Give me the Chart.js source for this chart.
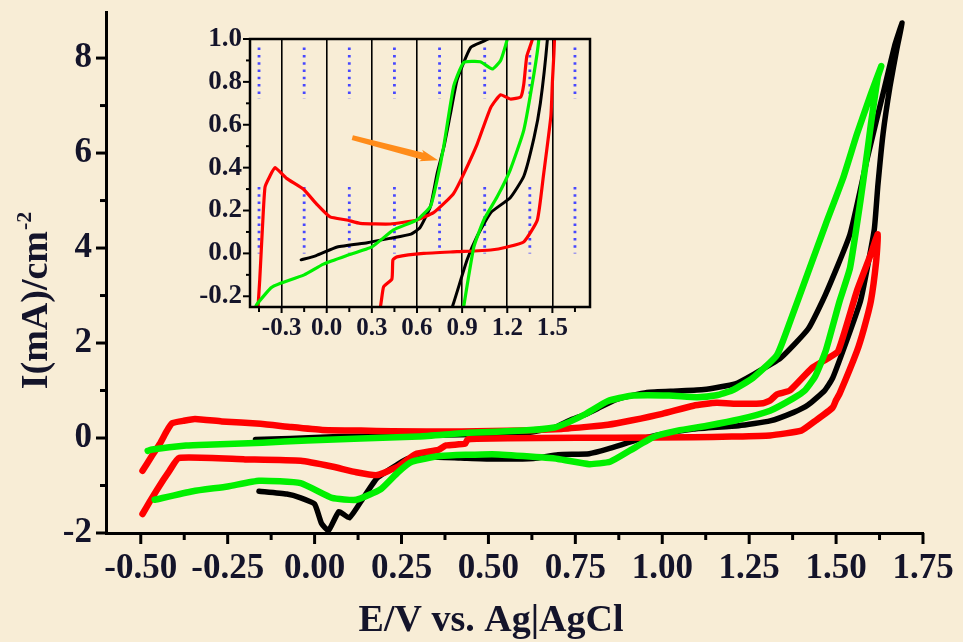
<!DOCTYPE html>
<html>
<head>
<meta charset="utf-8">
<script src="https://cdn.jsdelivr.net/npm/chart.js@4.4.0/dist/chart.umd.min.js"></script>
<style>
  html, body { margin: 0; padding: 0; background: #f8edd6; }
  #wrap { position: relative; width: 963px; height: 642px; }
  #main { position: absolute; left: 0; top: 0; }
  #inset { position: absolute; left: 190px; top: 25px; }
</style>
</head>
<body>
<div id="wrap">
  <canvas id="main" width="963" height="642"></canvas>
  <canvas id="inset" width="410" height="320"></canvas>
</div>
<script>
// ticks
const xTicks = [-0.5, -0.25, 0, 0.25, 0.5, 0.75, 1, 1.25, 1.5, 1.75];
const yTicks = [-2, 0, 2, 4, 6, 8];
const insetXTicks = [-0.3, 0, 0.3, 0.6, 0.9, 1.2, 1.5];
const insetYTicks = [-0.2, 0, 0.2, 0.4, 0.6, 0.8, 1.0];

// curves, E (V) and I (mA/cm2), forward scan then reverse scan
const blackE = [-0.17, -0.07, 0.07, 0.27, 0.42, 0.56, 0.62, 0.69, 0.733, 0.78, 0.822, 0.867, 0.956, 1.044, 1.12, 1.21, 1.26, 1.34, 1.42, 1.47, 1.54, 1.59, 1.64, 1.67, 1.69,
  1.675, 1.655, 1.635, 1.62, 1.61, 1.585, 1.57, 1.53, 1.49, 1.467, 1.42, 1.378, 1.31, 1.22, 1.09, 1.0, 0.933, 0.844, 0.79, 0.7, 0.63, 0.51, 0.42, 0.33, 0.27, 0.24, 0.18, 0.14, 0.1, 0.07, 0.04, 0.02, 0.0, -0.04, -0.08, -0.16];
const blackI = [-0.03, -0.01, 0.03, 0.05, 0.07, 0.09, 0.12, 0.22, 0.37, 0.5, 0.65, 0.81, 0.96, 0.99, 1.02, 1.14, 1.33, 1.68, 2.3, 3.03, 4.29, 5.9, 7.4, 8.3, 8.74,
  8.2, 7.4, 6.4, 5.3, 4.4, 3.4, 2.88, 2.04, 1.26, 1.0, 0.7, 0.54, 0.36, 0.26, 0.19, 0.08, -0.03, -0.23, -0.33, -0.35, -0.43, -0.44, -0.42, -0.4, -0.43, -0.55, -0.84, -1.26, -1.68, -1.55, -1.95, -1.8, -1.39, -1.26, -1.18, -1.12];

const redE = [-0.495, -0.47, -0.445, -0.425, -0.41, -0.378, -0.344, -0.267, -0.156, -0.067, 0.022, 0.133, 0.222, 0.422, 0.6, 0.71, 0.79, 0.844, 0.91, 1.0, 1.09, 1.156, 1.22, 1.29, 1.31, 1.33, 1.367, 1.43, 1.47, 1.506, 1.56, 1.6, 1.62,
  1.615, 1.6, 1.58, 1.56, 1.51, 1.5, 1.49, 1.44, 1.4, 1.31, 1.2, 1.09, 0.867, 0.644, 0.467, 0.44, 0.433, 0.378, 0.356, 0.29, 0.24, 0.18, 0.12, 0.05, -0.04, -0.2, -0.39, -0.42, -0.45, -0.475, -0.495];
const redI = [-0.69, -0.4, -0.12, 0.15, 0.31, 0.36, 0.4, 0.35, 0.3, 0.23, 0.17, 0.156, 0.14, 0.137, 0.156, 0.19, 0.24, 0.28, 0.37, 0.51, 0.68, 0.74, 0.72, 0.73, 0.79, 0.92, 1.0, 1.47, 1.65, 1.83, 3.1, 3.87, 4.29,
  3.7, 2.88, 2.3, 1.83, 0.93, 0.8, 0.64, 0.36, 0.156, 0.054, 0.03, 0.016, 0.008, 0.0, -0.016, -0.03, -0.12, -0.156, -0.25, -0.34, -0.6, -0.78, -0.72, -0.6, -0.48, -0.45, -0.42, -0.72, -1.05, -1.35, -1.6];

const greenE = [-0.48, -0.467, -0.37, -0.311, -0.15, -0.022, 0.133, 0.3, 0.444, 0.6, 0.69, 0.733, 0.778, 0.844, 0.91, 1.02, 1.1, 1.156, 1.2, 1.26, 1.33, 1.37, 1.42, 1.47, 1.52, 1.56, 1.6, 1.63,
  1.62, 1.6, 1.59, 1.57, 1.54, 1.51, 1.47, 1.44, 1.41, 1.378, 1.31, 1.22, 1.133, 1.044, 0.978, 0.91, 0.85, 0.79, 0.7, 0.6, 0.51, 0.36, 0.28, 0.24, 0.19, 0.12, 0.05, -0.04, -0.16, -0.25, -0.35, -0.46];
const greenI = [-0.27, -0.24, -0.16, -0.14, -0.1, -0.05, -0.01, 0.03, 0.11, 0.156, 0.22, 0.34, 0.5, 0.78, 0.89, 0.894, 0.86, 0.9, 1.0, 1.26, 1.75, 2.5, 3.5, 4.5, 5.47, 6.4, 7.24, 7.83,
  7.6, 6.6, 6.04, 4.99, 3.58, 2.88, 1.83, 1.3, 1.0, 0.84, 0.575, 0.39, 0.264, 0.156, 0.03, -0.25, -0.5, -0.55, -0.44, -0.38, -0.34, -0.38, -0.5, -0.72, -1.08, -1.3, -1.26, -0.95, -0.9, -1.02, -1.12, -1.3];

// orange arrow in the inset (tail, head) and the bands where the blue dotted lines show
const arrowE = [0.17, 0.74];
const arrowI = [0.54, 0.435];
const dotBands = [[0.0, 0.31], [0.72, 0.96]];

const ink = '#14142a';
const serif = "'Liberation Serif', 'Times New Roman', serif";

function pts(E, I) {
  return E.map((e, i) => ({x: e, y: I[i]}));
}

function minorOf(ticks, min, max) {
  const step = ticks[1] - ticks[0];
  const out = [];
  for (let v = ticks[0] - step / 2; v <= max + 1e-9; v += step) {
    if (v >= min - 1e-9) out.push(+v.toFixed(4));
  }
  return out;
}

function curves(w, wBlack) {
  return [
    {data: pts(greenE, greenI), borderColor: '#00f000', borderWidth: w},
    {data: pts(redE, redI), borderColor: '#ff0000', borderWidth: w},
    {data: pts(blackE, blackI), borderColor: '#000000', borderWidth: wBlack}
  ].map(d => Object.assign(d, {
    showLine: true, pointRadius: 0, tension: 0.15, fill: false,
    borderJoinStyle: 'round', borderCapStyle: 'round'
  }));
}

// keep the plot box where I put it (no extra room for half labels)
function noPad(s) {
  s.paddingTop = 0; s.paddingBottom = 0; s.paddingLeft = 0; s.paddingRight = 0;
}

// main plot: tick marks + axis titles
const mainDecor = {
  id: 'mainDecor',
  afterDraw(chart) {
    const ctx = chart.ctx;
    const x = chart.scales.x, y = chart.scales.y;
    const area = chart.chartArea;
    ctx.save();
    ctx.strokeStyle = '#000';
    ctx.lineWidth = 3;
    const tick = (x1, y1, x2, y2) => { ctx.beginPath(); ctx.moveTo(x1, y1); ctx.lineTo(x2, y2); ctx.stroke(); };
    xTicks.forEach(v => { const p = x.getPixelForValue(v); tick(p, area.bottom, p, area.bottom + 11); });
    minorOf(xTicks, x.min, x.max).forEach(v => { const p = x.getPixelForValue(v); tick(p, area.bottom, p, area.bottom + 7); });
    yTicks.forEach(v => { const p = y.getPixelForValue(v); tick(area.left, p, area.left - 10, p); });
    minorOf(yTicks, y.min, y.max).forEach(v => { const p = y.getPixelForValue(v); tick(area.left, p, area.left - 6, p); });

    ctx.fillStyle = ink;
    ctx.font = 'bold 38px ' + serif;
    ctx.textAlign = 'center';
    ctx.textBaseline = 'middle';
    ctx.fillText('E/V vs. Ag|AgCl', 491, 621);

    // y title with superscript
    ctx.translate(37, 301);
    ctx.rotate(-Math.PI / 2);
    ctx.textAlign = 'left';
    const main = 'I(mA)/cm', sup = '-2';
    const w1 = ctx.measureText(main).width;
    ctx.font = 'bold 22px ' + serif;
    const w2 = ctx.measureText(sup).width;
    const x0 = -(w1 + w2) / 2;
    ctx.fillText(sup, x0 + w1 + 1, -12);
    ctx.font = 'bold 38px ' + serif;
    ctx.fillText(main, x0, 0);
    ctx.restore();
  }
};

// inset: frame, ticks, dotted blue lines, arrow
const insetDecor = {
  id: 'insetDecor',
  beforeDatasetsDraw(chart) {
    const ctx = chart.ctx;
    const x = chart.scales.x, y = chart.scales.y;
    ctx.save();
    ctx.strokeStyle = '#4747ff';
    ctx.lineWidth = 2.8;
    ctx.setLineDash([2.5, 4.8]);
    minorOf(insetXTicks, x.min, x.max).forEach(v => {
      const p = x.getPixelForValue(v);
      dotBands.forEach(b => {
        ctx.beginPath();
        ctx.moveTo(p, y.getPixelForValue(b[1]));
        ctx.lineTo(p, y.getPixelForValue(b[0]));
        ctx.stroke();
      });
    });
    ctx.restore();
  },
  afterDraw(chart) {
    const ctx = chart.ctx;
    const x = chart.scales.x, y = chart.scales.y;
    const area = chart.chartArea;
    ctx.save();
    ctx.strokeStyle = '#000';
    ctx.lineWidth = 2.5;
    ctx.strokeRect(area.left, area.top, area.right - area.left, area.bottom - area.top);
    ctx.lineWidth = 2;
    const tick = (x1, y1, x2, y2) => { ctx.beginPath(); ctx.moveTo(x1, y1); ctx.lineTo(x2, y2); ctx.stroke(); };
    insetXTicks.forEach(v => { const p = x.getPixelForValue(v); tick(p, area.bottom, p, area.bottom + 6); });
    minorOf(insetXTicks, x.min, x.max).forEach(v => { const p = x.getPixelForValue(v); tick(p, area.bottom, p, area.bottom + 5); });
    insetYTicks.forEach(v => { const p = y.getPixelForValue(v); tick(area.left, p, area.left - 7, p); });
    minorOf(insetYTicks, y.min, y.max).forEach(v => { const p = y.getPixelForValue(v); tick(area.left, p, area.left - 4, p); });

    // orange arrow
    const x1 = x.getPixelForValue(arrowE[0]), y1 = y.getPixelForValue(arrowI[0]);
    const x2 = x.getPixelForValue(arrowE[1]), y2 = y.getPixelForValue(arrowI[1]);
    const ang = Math.atan2(y2 - y1, x2 - x1);
    const len = Math.hypot(x2 - x1, y2 - y1);
    ctx.translate(x1, y1);
    ctx.rotate(ang);
    ctx.fillStyle = '#ff8c1a';
    ctx.beginPath();
    ctx.moveTo(0, -2.5);
    ctx.lineTo(len - 16, -3.5);
    ctx.lineTo(len - 18, -6);
    ctx.lineTo(len, 0);
    ctx.lineTo(len - 18, 6);
    ctx.lineTo(len - 16, 3.5);
    ctx.lineTo(0, 2.5);
    ctx.closePath();
    ctx.fill();
    ctx.restore();
  }
};

const tickFont = {family: serif, size: 35, weight: 'bold'};
const insetXFont = {family: serif, size: 25, weight: 'bold'};
const insetYFont = {family: serif, size: 27, weight: 'bold'};

new Chart(document.getElementById('main'), {
  type: 'scatter',
  data: {datasets: curves(6.5, 5.5)},
  options: {
    responsive: false,
    animation: false,
    layout: {padding: {top: 12, right: 40, left: 0, bottom: 0}},
    plugins: {legend: {display: false}, tooltip: {enabled: false}},
    scales: {
      x: {
        type: 'linear', min: -0.6, max: 1.75,
        afterBuildTicks: s => { s.ticks = xTicks.map(v => ({value: v})); },
        afterFit: s => { s.height = 109; noPad(s); },
        grid: {drawOnChartArea: false, drawTicks: false},
        border: {color: '#000', width: 3},
        ticks: {font: tickFont, color: ink, padding: 15, maxRotation: 0, autoSkip: false,
          callback: v => v.toFixed(2)}
      },
      y: {
        type: 'linear', min: -2, max: 8.97,
        afterBuildTicks: s => { s.ticks = yTicks.map(v => ({value: v})); },
        afterFit: s => { s.width = 106; noPad(s); },
        grid: {drawOnChartArea: false, drawTicks: false},
        border: {color: '#000', width: 3},
        ticks: {font: tickFont, color: ink, padding: 14, callback: v => String(v)}
      }
    }
  },
  plugins: [mainDecor]
});

new Chart(document.getElementById('inset'), {
  type: 'scatter',
  data: {datasets: curves(3.2, 3)},
  options: {
    responsive: false,
    animation: false,
    layout: {padding: {top: 14, right: 10, left: 0, bottom: 0}},
    plugins: {legend: {display: false}, tooltip: {enabled: false}},
    scales: {
      x: {
        type: 'linear', min: -0.51, max: 1.75,
        afterBuildTicks: s => { s.ticks = insetXTicks.map(v => ({value: v})); },
        afterFit: s => { s.height = 38; noPad(s); },
        grid: {drawOnChartArea: true, drawTicks: false, color: '#000', lineWidth: 1.6},
        border: {display: false},
        ticks: {font: insetXFont, color: ink, padding: 7, maxRotation: 0, autoSkip: false,
          callback: v => v.toFixed(1)}
      },
      y: {
        type: 'linear', min: -0.25, max: 1.0,
        afterBuildTicks: s => { s.ticks = insetYTicks.map(v => ({value: v})); },
        afterFit: s => { s.width = 60; noPad(s); },
        grid: {drawOnChartArea: false, drawTicks: false},
        border: {display: false},
        ticks: {font: insetYFont, color: ink, padding: 8, callback: v => v.toFixed(1)}
      }
    }
  },
  plugins: [insetDecor]
});
</script>
</body>
</html>
